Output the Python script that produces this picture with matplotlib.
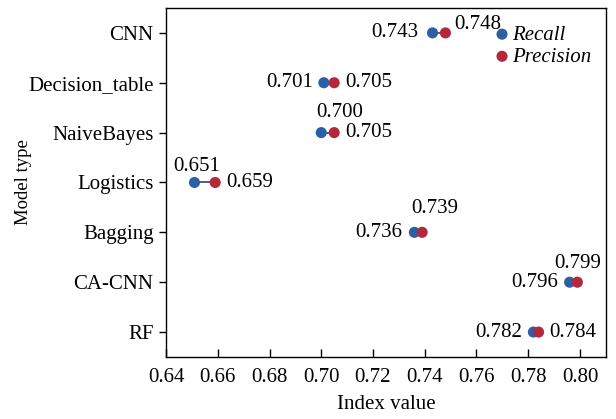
import numpy as np
import matplotlib
matplotlib.use("Agg")
import matplotlib.pyplot as plt

models = ["CNN", "Decision_table", "NaiveBayes", "Logistics", "Bagging", "CA-CNN", "RF"]
recall = [0.743, 0.701, 0.700, 0.651, 0.736, 0.796, 0.782]
precision = [0.748, 0.705, 0.705, 0.659, 0.739, 0.799, 0.784]

xticks = [0.64, 0.66, 0.68, 0.70, 0.72, 0.74, 0.76, 0.78, 0.80]

blue = "#2b60a8"
red = "#b3283b"

# where each value label goes: (dx px, dy px, ha)
recall_pos = [(-14, 0, "right"), (-11, 0, "right"), (-5, 20, "left"), (2, 16, "center"),
              (-12, 0, "right"), (-11, 0, "right"), (-11, 0, "right")]
prec_pos = [(9, 8, "left"), (11, 0, "left"), (11, 0, "left"), (11, 0, "left"),
            (-11, 24, "left"), (0, 19, "center"), (11, 0, "left")]

plt.rcParams["font.family"] = ["Liberation Serif", "DejaVu Serif"]
plt.rcParams["font.size"] = 15

fig = plt.figure(figsize=(6.16, 4.19), dpi=100)
ax = fig.add_axes([0.2695, 0.148, 0.714, 0.833])

y = np.arange(len(models))[::-1]

ax.hlines(y, recall, precision, color="#333333", linewidth=1.1, zorder=1)
ax.scatter(recall, y, s=64, color=blue, zorder=3, label="Recall", edgecolors="none")
ax.scatter(precision, y, s=64, color=red, zorder=3, label="Precision", edgecolors="none")

k = 0.72  # px -> pt
for i in range(len(models)):
    dx, dy, ha = recall_pos[i]
    ax.annotate("%.3f" % recall[i], (recall[i], y[i]), xytext=(dx * k, dy * k),
                textcoords="offset points", ha=ha, va="center")
    dx, dy, ha = prec_pos[i]
    ax.annotate("%.3f" % precision[i], (precision[i], y[i]), xytext=(dx * k, dy * k),
                textcoords="offset points", ha=ha, va="center")

ax.set_xlim(0.64, 0.81)
ax.set_ylim(-0.5, len(models) - 0.5)
ax.set_xticks(xticks)
ax.set_xticklabels(["%.2f" % t for t in xticks])
ax.set_yticks(y)
ax.set_yticklabels(models)
ax.tick_params(axis="x", direction="in", length=6, width=1, pad=8)
ax.tick_params(axis="y", direction="out", length=5, width=1, pad=4)
for sp in ax.spines.values():
    sp.set_linewidth(1.0)

ax.set_xlabel("Index value", labelpad=6)
ax.set_ylabel("Model type", fontsize=13.5)
ax.yaxis.set_label_coords(-0.305, 0.5)

leg = ax.legend(loc="upper left", bbox_to_anchor=(0.745, 0.951), frameon=False,
                handlelength=0.8, handletextpad=0.1, labelspacing=0.12,
                borderaxespad=0, borderpad=0, scatterpoints=1,
                prop={"style": "italic", "size": 15})

fig.savefig("out.png", dpi=100)
